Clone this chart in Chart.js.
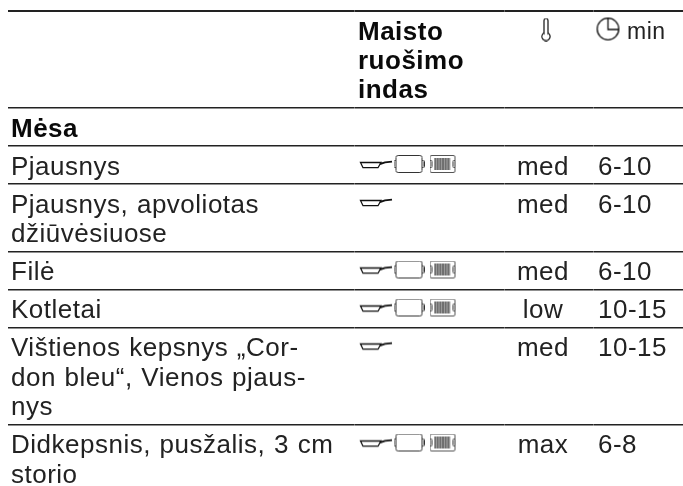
<!DOCTYPE html>
<html>
<head>
<meta charset="utf-8">
<script src="https://cdn.jsdelivr.net/npm/chart.js@4/dist/chart.umd.min.js"></script>
<style>
  html, body { margin: 0; padding: 0; background: #fff; }
  canvas { display: block; }
</style>
</head>
<body>
<canvas id="table-chart" width="683" height="486"></canvas>
<script>
const headerLabels = ["Maisto", "ruošimo", "indas"];
const minHeader = "min";
const rowLabels = [
  ["Mėsa"],
  ["Pjausnys"],
  ["Pjausnys, apvoliotas", "džiūvėsiuose"],
  ["Filė"],
  ["Kotletai"],
  ["Vištienos kepsnys „Cor-", "don bleu“, Vienos pjaus-", "nys"],
  ["Didkepsnis, pusžalis, 3 cm", "storio"],
];
const boldRows = [true, false, false, false, false, false, false];
const cookware = [
  [],
  ["pan", "dish", "grill"],
  ["pan"],
  ["pan", "dish", "grill"],
  ["pan", "dish", "grill"],
  ["pan"],
  ["pan", "dish", "grill"],
];
const heat = ["", "med", "med", "med", "low", "med", "max"];
const minutes = ["", "6-10", "6-10", "6-10", "10-15", "10-15", "6-8"];

const FONT = '"Liberation Sans", sans-serif';
const FONT_SIZE = 26;
const LINE = 29.5;
const TOP = 11;
const HEADER_H = 97;
const COL_NAME = 11;
const COL_WARE = 358;
const COL_HEAT = 543;
const COL_TIME = 598;
const ICON_X = { pan: 376, dish: 409, grill: 443 };
const COLUMN_SEAMS = [354, 504, 593];

// row edges: a row is as tall as its text
const rowTops = [TOP + HEADER_H];
rowLabels.forEach((lines, i) => {
  rowTops.push(rowTops[i] + 8.5 + LINE * lines.length);
});
const rules = [TOP].concat(rowTops.slice(0, -1));

function makeIcon(w, h, draw) {
  const c = document.createElement("canvas");
  c.width = w;
  c.height = h;
  const ctx = c.getContext("2d");
  ctx.strokeStyle = "#333";
  ctx.lineWidth = 1;
  draw(ctx);
  return c;
}

function roundBox(ctx, x, y, w, h, r) {
  ctx.beginPath();
  ctx.roundRect(x, y, w, h, r);
  ctx.stroke();
}

const panIcon = makeIcon(34, 12, (ctx) => {
  ctx.strokeStyle = "#111";
  ctx.lineWidth = 1.3;
  ctx.beginPath();
  ctx.moveTo(1.5, 3.5);
  ctx.lineTo(22, 3.5);
  ctx.lineTo(19, 8.7);
  ctx.lineTo(4, 8.7);
  ctx.closePath();
  ctx.stroke();
  ctx.lineWidth = 1.9;
  ctx.beginPath();
  ctx.moveTo(21, 5);
  ctx.lineTo(26, 3.4);
  ctx.lineTo(33, 2.6);
  ctx.stroke();
});

const dishIcon = makeIcon(31, 19, (ctx) => {
  roundBox(ctx, 2.5, 0.5, 26, 17, 2);
  roundBox(ctx, 0.5, 5.5, 2, 7, 1);
  roundBox(ctx, 28.5, 5.5, 2, 7, 1);
});

const grillIcon = makeIcon(27, 19, (ctx) => {
  ctx.strokeStyle = "#555";
  roundBox(ctx, 0.5, 0.5, 25, 17, 1.5);
  ctx.strokeStyle = "#333";
  roundBox(ctx, 0.5, 5.5, 2, 7, 1);
  roundBox(ctx, 23.5, 5.5, 2, 7, 1);
  ctx.beginPath();
  for (let x = 5.5; x < 21; x += 1.6) {
    ctx.moveTo(x, 3);
    ctx.lineTo(x, 15);
  }
  ctx.stroke();
});

const thermoIcon = makeIcon(12, 24, (ctx) => {
  ctx.strokeStyle = "#111";
  ctx.lineWidth = 1.2;
  ctx.beginPath();
  ctx.moveTo(4, 15.5);
  ctx.lineTo(4, 3);
  ctx.arc(6, 3, 2, Math.PI, 0);
  ctx.lineTo(8, 15.5);
  ctx.arc(6, 19, 4.1, -1.05, Math.PI + 1.05);
  ctx.closePath();
  ctx.stroke();
});

const clockIcon = makeIcon(25, 25, (ctx) => {
  ctx.strokeStyle = "#111";
  ctx.lineWidth = 1.3;
  ctx.beginPath();
  ctx.arc(12.5, 12.5, 10.8, 0, Math.PI * 2);
  ctx.moveTo(12.5, 2);
  ctx.lineTo(12.5, 13);
  ctx.lineTo(23, 13);
  ctx.stroke();
});

const iconImages = { pan: panIcon, dish: dishIcon, grill: grillIcon };
const iconOffset = { pan: 19, dish: 18.5, grill: 18.5 };

function wareSeries(kind) {
  const pts = [];
  cookware.forEach((list, i) => {
    if (list.includes(kind)) {
      pts.push({ x: ICON_X[kind], y: rowTops[i] + iconOffset[kind] });
    }
  });
  return {
    data: pts,
    pointStyle: iconImages[kind],
    pointRadius: 5,
  };
}

const tableText = {
  id: "tableText",
  afterDatasetsDraw(chart) {
    const ctx = chart.ctx;
    const x = chart.scales.x;
    const y = chart.scales.y;

    function put(str, px, py, bold, align, size) {
      ctx.font = (bold ? "bold " : "") + (size || FONT_SIZE) + "px " + FONT;
      ctx.textAlign = align || "left";
      ctx.fillStyle = bold ? "#0a0a0a" : "#222";
      ctx.fillText(str, x.getPixelForValue(px), y.getPixelForValue(py));
    }

    ctx.save();
    ctx.textBaseline = "alphabetic";
    ctx.letterSpacing = "0.5px";
    ctx.wordSpacing = "1px";

    // the rules are broken by a hair at each column edge
    ctx.fillStyle = "rgba(255,255,255,0.3)";
    rules.forEach((r) => {
      COLUMN_SEAMS.forEach((s) => {
        ctx.fillRect(x.getPixelForValue(s), y.getPixelForValue(r) - 1.5, 1, 3);
      });
    });

    headerLabels.forEach((t, i) => {
      put(t, COL_WARE, TOP + 29 + i * 29, true);
    });
    put(minHeader, 627, TOP + 28, false, "left", 23);

    rowLabels.forEach((lines, i) => {
      lines.forEach((t, j) => {
        put(t, COL_NAME, rowTops[i] + 28.5 + j * LINE, boldRows[i]);
      });
      if (heat[i]) put(heat[i], COL_HEAT, rowTops[i] + 28.5, false, "center");
      if (minutes[i]) put(minutes[i], COL_TIME, rowTops[i] + 28.5, false);
    });
    ctx.restore();
  },
};

new Chart(document.getElementById("table-chart"), {
  type: "scatter",
  data: {
    datasets: [
      wareSeries("pan"),
      wareSeries("dish"),
      wareSeries("grill"),
      { data: [{ x: 546, y: 29.5 }], pointStyle: thermoIcon, pointRadius: 5 },
      { data: [{ x: 608, y: 29 }], pointStyle: clockIcon, pointRadius: 5 },
    ],
  },
  options: {
    responsive: false,
    animation: false,
    events: [],
    layout: { autoPadding: false, padding: { left: 8, right: 0, top: 0, bottom: 0 } },
    plugins: {
      legend: { display: false },
      tooltip: { enabled: false },
    },
    scales: {
      x: {
        type: "linear",
        min: 8,
        max: 683,
        display: false,
      },
      y: {
        type: "linear",
        reverse: true,
        min: 0,
        max: 486,
        border: { display: false },
        ticks: { display: false },
        afterBuildTicks(scale) {
          scale.ticks = rules.map((v) => ({ value: v }));
        },
        grid: {
          drawTicks: false,
          color: "#222",
          lineWidth: (c) => (c.index === 0 ? 2 : 1.5),
        },
      },
    },
  },
  plugins: [tableText],
});
</script>
</body>
</html>
